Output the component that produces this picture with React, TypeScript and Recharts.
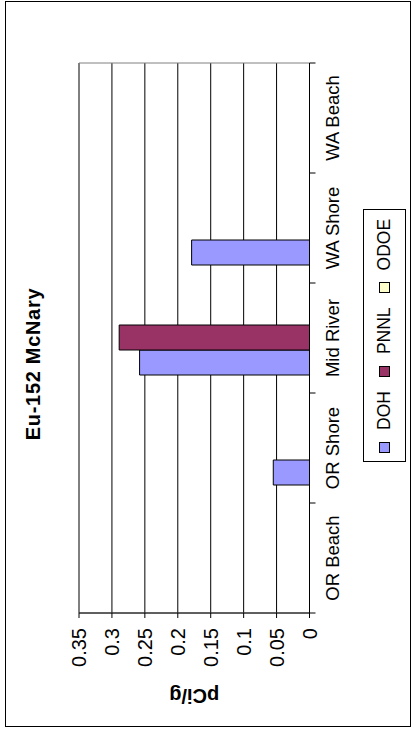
import React from 'react'
import { BarChart, Bar, XAxis, YAxis, CartesianGrid, ReferenceArea } from 'recharts'

// values (pCi/g)
const sites = ['OR Beach', 'OR Shore', 'Mid River', 'WA Shore', 'WA Beach']
const doh = [null, 0.055, 0.258, 0.179, null]
const pnnl = [null, null, 0.289, null, null]
const odoe = [null, null, null, null, null]
const valueTicks = [0, 0.05, 0.1, 0.15, 0.2, 0.25, 0.3, 0.35]

const series = [
  { name: 'DOH', values: doh, color: '#9999FF' },
  { name: 'PNNL', values: pnnl, color: '#993366' },
  { name: 'ODOE', values: odoe, color: '#FFFFCC' },
]

const rows = sites.map((site, i) => {
  const row: Record<string, any> = { site }
  series.forEach((s) => { row[s.name] = s.values[i] })
  return row
})

const FONT = '"Liberation Sans", Arial, sans-serif'
const W = 732
const H = 414
const CAT_TICK = 6
const CAT_MARGIN = 10

// category label + Excel style tick marks on the band edges
function CatTick(props: any) {
  const { x, y, payload, width, visibleTicksCount, index } = props
  const half = payload && payload.offset ? payload.offset : width / visibleTicksCount / 2
  const axisY = y - CAT_TICK - CAT_MARGIN
  const last = index === visibleTicksCount - 1
  return (
    <g>
      <line x1={x - half} x2={x - half} y1={axisY} y2={axisY + CAT_TICK} stroke="#000" />
      {last && <line x1={x + half} x2={x + half} y1={axisY} y2={axisY + CAT_TICK} stroke="#000" />}
      <text x={x} y={y} dy="0.71em" textAnchor="middle" fill="#000" fontSize={18.5} fontFamily={FONT}>
        {payload.value}
      </text>
    </g>
  )
}

function AxisTitle(props: any) {
  const vb = props.viewBox || { y: 0, height: 0 }
  const cy = vb.y + vb.height / 2
  return (
    <text
      x={36}
      y={cy}
      transform={`rotate(-90 36 ${cy})`}
      textAnchor="middle"
      dominantBaseline="central"
      fontFamily={FONT}
      fontWeight="bold"
      fontSize={20}
      fill="#000"
    >
      pCi/g
    </text>
  )
}

export default function App() {
  return (
    <div style={{ position: 'absolute', left: 0, top: 0, width: H, height: W, background: '#fff', overflow: 'hidden' }}>
      {/* the whole chart is drawn landscape, then turned a quarter left */}
      <div
        style={{
          position: 'absolute',
          left: 0,
          top: 0,
          width: W,
          height: H,
          transformOrigin: '0 0',
          transform: `translateY(${W}px) rotate(-90deg)`,
          fontFamily: FONT,
        }}
      >
        <div style={{ position: 'absolute', left: 5, top: 5, width: 726, height: 406, border: '1px solid #000', boxSizing: 'border-box' }} />
        <div
          style={{
            position: 'absolute',
            left: 5,
            width: 726,
            top: 23,
            lineHeight: '20px',
            fontSize: 20,
            fontWeight: 'bold',
            letterSpacing: 0.7,
            textAlign: 'center',
            color: '#000',
          }}
        >
          Eu-152 McNary
        </div>

        <div style={{ position: 'absolute', left: 0, top: 0 }}>
          <BarChart
            width={W}
            height={H}
            data={rows}
            margin={{ top: 79, right: 63, bottom: 74.5, left: 59 }}
            barGap={0}
            barSize={25}
          >
            <CartesianGrid vertical={false} stroke="#000" />
            <ReferenceArea
              xAxisId="cat"
              y1={0}
              y2={0.35}
              fill="none"
              stroke="#808080"
              strokeWidth={1}
              ifOverflow="visible"
            />
            <XAxis
              xAxisId="cat"
              dataKey="site"
              height={30}
              tickLine={false}
              tickSize={CAT_TICK}
              tickMargin={CAT_MARGIN}
              axisLine={{ stroke: '#000' }}
              tick={<CatTick />}
              interval={0}
            />
            <YAxis
              width={60}
              domain={[0, 0.35]}
              ticks={valueTicks}
              tickSize={5}
              tickMargin={10}
              axisLine={{ stroke: '#000' }}
              tickLine={{ stroke: '#000' }}
              tick={{ fill: '#000', fontSize: 20, fontFamily: FONT }}
              label={{ content: AxisTitle }}
            />
            {series.map((s) => (
              <Bar
                key={s.name}
                xAxisId="cat"
                dataKey={s.name}
                fill={s.color}
                stroke="#000"
                strokeWidth={1}
                isAnimationActive={false}
              />
            ))}
          </BarChart>
        </div>

        {/* legend */}
        <div
          style={{
            position: 'absolute',
            left: 270,
            top: 363,
            width: 253,
            height: 43,
            border: '1px solid #000',
            boxSizing: 'border-box',
            display: 'flex',
            alignItems: 'center',
            paddingLeft: 8,
            gap: 14,
            fontSize: 17.5,
            color: '#000',
            background: '#fff',
          }}
        >
          {series.map((s) => (
            <div key={s.name} style={{ display: 'flex', alignItems: 'center', gap: 12 }}>
              <div style={{ width: 11, height: 11, background: s.color, border: '1px solid #000', boxSizing: 'border-box' }} />
              <span>{s.name}</span>
            </div>
          ))}
        </div>
      </div>
    </div>
  )
}
